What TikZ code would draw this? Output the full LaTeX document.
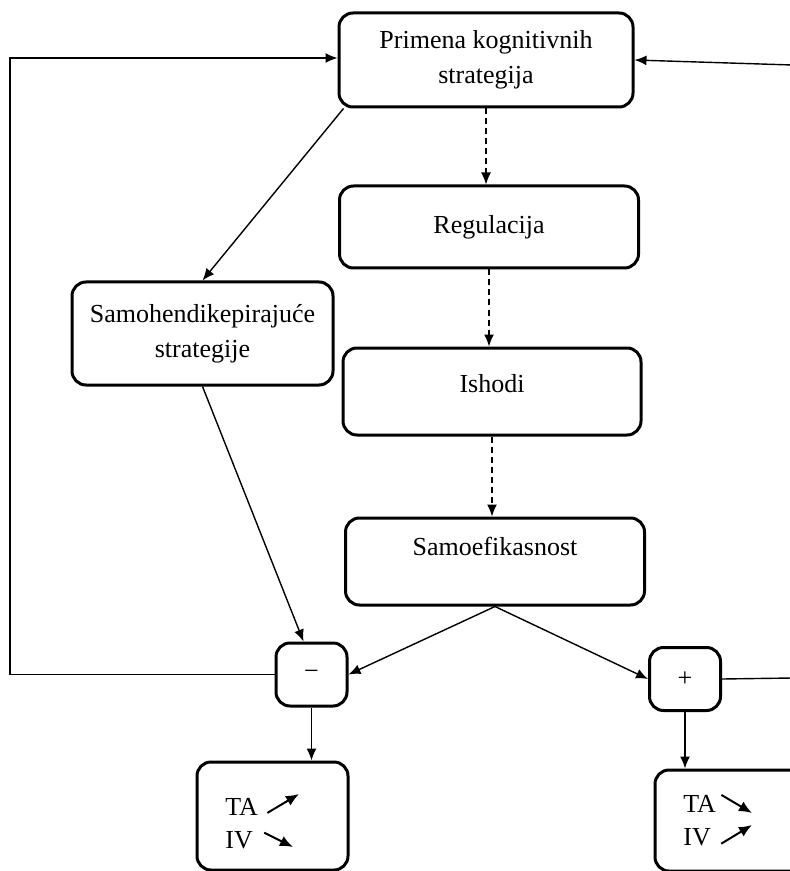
\documentclass[tikz,border=0pt]{standalone}
\usepackage{fontspec}
\setmainfont{Liberation Serif}
\usetikzlibrary{arrows.meta}

\begin{document}
\begin{tikzpicture}[x=0.5pt, y=-0.5pt]
        \tikzstyle{kutija}=[draw=black, line width=1.5pt, rounded corners=7pt, align=center, inner sep=2pt, font=\fontsize{13}{17.5}\selectfont]
        \tikzstyle{znak}=[kutija, minimum width=35.5pt, minimum height=31.5pt]
        \tikzstyle{oznaka}=[anchor=base west, inner sep=0pt, font=\fontsize{13}{17.5}\selectfont]
        \tikzstyle{strelica}=[line width=0.7pt, -{Latex[length=6pt, width=5pt]}]
        \tikzstyle{isprekidana}=[strelica, dash pattern=on 3pt off 2pt]
        \tikzstyle{trend}=[line width=1pt, -{Latex[length=6.5pt, width=5.5pt]}]

        \useasboundingbox (0,0) rectangle (790,871);
        \clip (0,0) rectangle (790,871);

        \coordinate (L) at (10,58);
        \coordinate (D1) at (792,65);
        \coordinate (D2) at (792,678);

        \node[kutija, minimum width=147pt, minimum height=47pt] (prim) at (486,60) {Primena kognitivnih\\strategija};
        \node[kutija, minimum width=149.5pt, minimum height=41pt] (reg) at (489,227) {Regulacija};
        \node[kutija, minimum width=149pt, minimum height=43.5pt, text depth=8.5pt] (ish) at (492,391.5) {Ishodi};
        \node[kutija, minimum width=149.5pt, minimum height=43.5pt, text depth=15.5pt] (samo) at (495,561.5) {Samoefikasnost};
        \node[kutija, minimum width=130.5pt, minimum height=51.5pt] (samoh) at (202.5,333.5) {Samohendikepirajuće\\strategije};

        \node[znak] (minus) at (311.5,674.5) {−};
        \node[znak] (plus) at (685,679) {+};

        \node[kutija, minimum width=75.5pt, minimum height=54pt] (rezL) at (272.5,816) {};
        \node[kutija, minimum width=87.5pt, minimum height=50.5pt] (rezD) at (742.5,820.5) {};

        \node[oznaka] (ta1) at (225,815) {TA};
        \node[oznaka] (iv1) at (225,848) {IV};
        \node[oznaka] (ta2) at (683,812) {TA};
        \node[oznaka] (iv2) at (683,845) {IV};

        \coordinate (ta1k) at (299,794);
        \coordinate (iv1k) at (293,847);
        \coordinate (ta2k) at (752,813);
        \coordinate (iv2k) at (752,825);

        \draw[strelica] (minus.west) -| (L) -- (L -| prim.west);
        \draw[strelica] (D1) -- (prim.east);
        \draw[line width=0.7pt] (plus.east) -- (D2);

        \draw[strelica] ([xshift=3pt]prim.south west) -- (samoh.north);
        \draw[isprekidana] (prim.south) -- (prim.south |- reg.north);
        \draw[isprekidana] (reg.south) -- (reg.south |- ish.north);
        \draw[isprekidana] (ish.south) -- (ish.south |- samo.north);

        \draw[strelica] (samoh.south) -- ([xshift=-4pt]minus.north);
        \draw[strelica] (samo.south) -- (minus.east);
        \draw[strelica] (samo.south) -- (plus.west);

        \draw[strelica] (minus.south) -- (minus.south |- rezL.north);
        \draw[strelica] (plus.south) -- (plus.south |- rezD.north);

        \draw[trend] ([shift={(9,6.5)}]ta1.east) -- (ta1k);
        \draw[trend] ([shift={(11,-7)}]iv1.east) -- (iv1k);
        \draw[trend] ([shift={(5,-8.5)}]ta2.east) -- (ta2k);
        \draw[trend] ([shift={(10,7)}]iv2.east) -- (iv2k);
\end{tikzpicture}
\end{document}
